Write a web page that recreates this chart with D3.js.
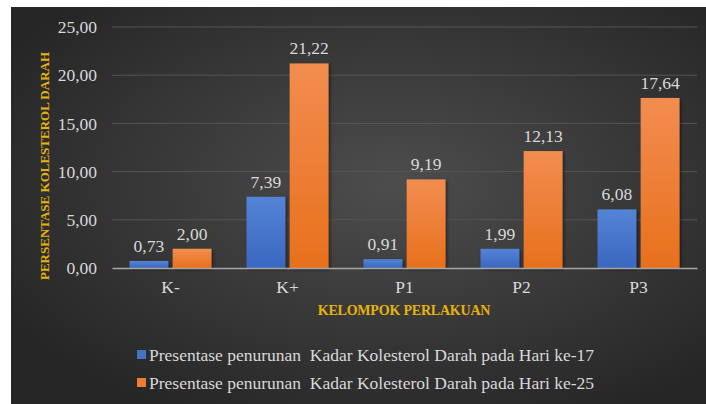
<!DOCTYPE html>
<html>
<head>
<meta charset="utf-8">
<script src="https://cdn.jsdelivr.net/npm/d3@7"></script>
<style>
  body { margin: 0; background: #ffffff; }
  svg { display: block; }
  svg text { font-family: "Liberation Serif", "Times New Roman", "DejaVu Serif", serif; }
</style>
</head>
<body>
<svg id="chart" width="706" height="404"></svg>
<script>
// data
var groups = ["K-", "K+", "P1", "P2", "P3"];
var day17 = [0.73, 7.39, 0.91, 1.99, 6.08];
var day25 = [2.00, 21.22, 9.19, 12.13, 17.64];
var seriesNames = [
    "Presentase penurunan  Kadar Kolesterol Darah pada Hari ke-17",
    "Presentase penurunan  Kadar Kolesterol Darah pada Hari ke-25"
];
var yTicks = [0, 5, 10, 15, 20, 25];

let svg = d3.select("#chart");
let labelSize = "17.5px";

// comma as decimal separator
let locale = d3.formatLocale({ decimal: ",", thousands: ".", grouping: [3], currency: ["", ""] });
let fmt = locale.format(".2f");

// background with soft radial light
let defs = svg.append("defs");
let bg = defs.append("radialGradient").attr("id", "bg")
    .attr("cx", "55%").attr("cy", "45%").attr("r", "65%");
bg.append("stop").attr("offset", "0%").attr("stop-color", "#4d4d4d");
bg.append("stop").attr("offset", "100%").attr("stop-color", "#262626");

let gBlue = defs.append("linearGradient").attr("id", "gBlue")
    .attr("x1", 0).attr("y1", 0).attr("x2", 0).attr("y2", 1);
gBlue.append("stop").attr("offset", "0%").attr("stop-color", "#5484d6");
gBlue.append("stop").attr("offset", "100%").attr("stop-color", "#3a67c0");

let gOrange = defs.append("linearGradient").attr("id", "gOrange")
    .attr("x1", 0).attr("y1", 0).attr("x2", 0).attr("y2", 1);
gOrange.append("stop").attr("offset", "0%").attr("stop-color", "#f28d50");
gOrange.append("stop").attr("offset", "100%").attr("stop-color", "#e8701c");

let shadow = defs.append("filter").attr("id", "shadow")
    .attr("x", "-20%").attr("y", "-20%").attr("width", "150%").attr("height", "150%");
shadow.append("feDropShadow").attr("dx", 1.5).attr("dy", 1.5).attr("stdDeviation", 1.5)
    .attr("flood-color", "#000").attr("flood-opacity", 0.5);

svg.append("rect")
    .attr("x", 11).attr("y", 7)
    .attr("width", 695).attr("height", 397)
    .attr("fill", "url(#bg)");

// Margin
let margin = { top: 27, right: 9, bottom: 136, left: 112 };
let plotWidth = 706 - margin.left - margin.right;
let plotHeight = 404 - margin.top - margin.bottom;

let yScale = d3.scaleLinear().domain([0, 25]).range([plotHeight, 0]);
let xScale = d3.scaleBand().domain(groups).range([0, plotWidth]).paddingInner(0).paddingOuter(0);
let inner = d3.scaleBand().domain([0, 1]).range([(xScale.bandwidth() - 82) / 2, (xScale.bandwidth() + 82) / 2]).paddingInner(0.1);

let plot = svg.append("g").attr("transform", "translate(" + margin.left + "," + margin.top + ")");

// gridlines
plot.append("g")
    .selectAll("line")
    .data(yTicks.filter(d => d > 0))
    .enter().append("line")
    .attr("x1", 0).attr("x2", plotWidth)
    .attr("y1", d => yScale(d)).attr("y2", d => yScale(d))
    .attr("stroke", "#555555").attr("stroke-width", 1);

// y axis labels
let yAxis = d3.axisLeft(yScale).tickValues(yTicks).tickFormat(fmt).tickSize(0).tickPadding(15);
let yGroup = plot.append("g").call(yAxis).attr("font-family", null);
yGroup.select(".domain").remove();
yGroup.selectAll("text")
    .style("font-size", labelSize).attr("fill", "#d9d9d9");

// bars
let series = [day17, day25];
let fills = ["url(#gBlue)", "url(#gOrange)"];
series.forEach((vals, s) => {
    plot.append("g")
        .selectAll("rect")
        .data(vals)
        .enter().append("rect")
        .attr("x", (d, i) => xScale(groups[i]) + inner(s))
        .attr("y", d => yScale(d))
        .attr("width", inner.bandwidth())
        .attr("height", d => plotHeight - yScale(d))
        .attr("fill", fills[s])
        .attr("filter", "url(#shadow)");

    plot.append("g")
        .selectAll("text")
        .data(vals)
        .enter().append("text")
        .text(d => fmt(d))
        .attr("x", (d, i) => xScale(groups[i]) + inner(s) + inner.bandwidth() / 2)
        .attr("y", d => yScale(d) - 9)
        .attr("text-anchor", "middle")
        .style("font-size", labelSize)
        .attr("fill", "#d9d9d9");
});

// x axis
let xAxis = d3.axisBottom(xScale).tickSize(0).tickPadding(13);
let xGroup = plot.append("g").attr("transform", "translate(0," + plotHeight + ")").call(xAxis).attr("font-family", null);
xGroup.select(".domain").attr("stroke", "#a6a6a6").attr("stroke-width", 1.5);
xGroup.selectAll("text")
    .style("font-size", labelSize).attr("fill", "#d9d9d9");

// Axis titles
svg.append("text")
    .text("PERSENTASE KOLESTEROL DARAH")
    .attr("transform", "translate(49,166) rotate(-90)")
    .attr("text-anchor", "middle")
    .style("font-size", "13px").style("font-weight", "bold")
    .attr("fill", "#e6b30c");

svg.append("text")
    .text("KELOMPOK PERLAKUAN")
    .attr("x", 404).attr("y", 315)
    .attr("text-anchor", "middle")
    .style("font-size", "14px").style("font-weight", "bold")
    .style("letter-spacing", "-0.2px")
    .attr("fill", "#e6b30c");

// legend
let legColors = ["#4472c4", "#ed7d31"];
let legend = svg.append("g");
seriesNames.forEach((name, i) => {
    let y = 355 + i * 28;
    legend.append("rect")
        .attr("x", 137).attr("y", y - 5)
        .attr("width", 9).attr("height", 9)
        .attr("fill", legColors[i]);
    legend.append("text")
        .text(name)
        .attr("x", 149).attr("y", y + 6)
        .style("white-space", "pre")
        .style("font-size", labelSize)
        .attr("fill", "#d9d9d9");
});
</script>
</body>
</html>
